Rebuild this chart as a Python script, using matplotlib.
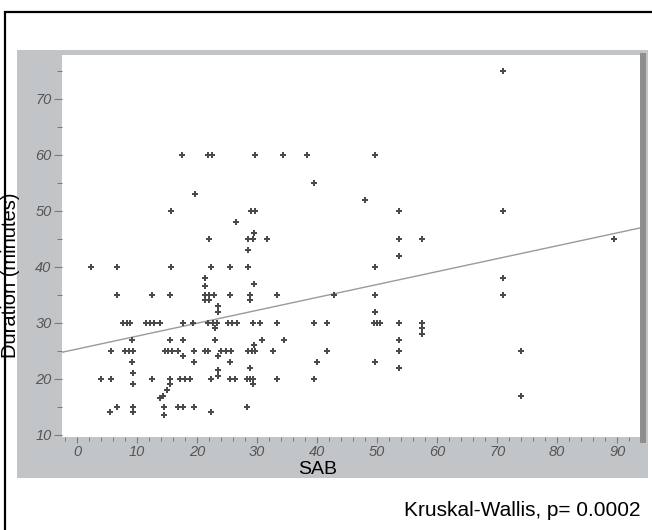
import matplotlib
matplotlib.use("Agg")
import matplotlib.pyplot as plt
from matplotlib.patches import Rectangle
from matplotlib.ticker import MultipleLocator

# SAB score vs procedure duration (minutes)
sab = [17.5, 19.6, 15.6, 2.3, 6.6, 15.6,
       21.9, 22.5, 29.7, 34.4, 38.4, 39.5,
       29.0, 29.6, 26.5, 22.0, 28.5, 29.5, 29.3, 31.6, 28.5,
       22.4, 25.5, 28.5, 21.3, 21.3, 29.5,
       6.6, 12.5, 15.5,
       7.7, 8.3, 8.8, 11.5, 12.2, 12.8, 13.8, 17.6, 19.3,
       9.1, 15.5, 17.6,
       5.6, 8.0, 8.7, 9.4, 14.6, 15.2, 15.9, 16.9, 17.6, 19.5,
       9.1, 19.5,
       4.0, 5.6, 9.3, 9.3, 12.5, 15.5, 15.5, 17.2, 18.0, 18.8,
       15.0, 14.4, 13.8,
       6.6, 5.5, 9.3, 9.3, 14.5, 14.5, 16.9, 17.6, 19.5,
       21.3, 22.0, 22.8, 21.3, 22.0, 25.5, 28.8, 28.8, 33.4,
       23.5, 23.5,
       21.9, 22.6, 23.3, 25.2, 25.9, 26.6, 29.3, 30.5, 33.4, 39.5, 41.6,
       23.0, 23.0, 30.9, 34.5, 29.5,
       21.3, 21.9, 24.0, 24.8, 25.6, 28.5, 29.1, 29.7, 32.6, 41.6,
       23.5, 25.5, 40.0, 28.9,
       22.3, 23.5, 23.5, 25.5, 26.3, 28.3, 28.9, 29.3, 29.3, 33.4, 39.5,
       28.3, 22.4,
       49.6, 48.0, 53.6, 71.0, 53.6, 57.4, 53.6, 49.6, 71.0, 42.8, 49.6, 71.0, 49.6,
       49.4, 49.9, 50.5, 53.6, 57.4, 57.4, 57.4, 53.6, 53.6, 74.0, 49.6, 53.6, 74.0,
       71.0, 89.4]
duration = [60, 53, 50, 40, 40, 40,
            60, 60, 60, 60, 60, 55,
            50, 50, 48, 45, 45, 46, 45, 45, 43,
            40, 40, 40, 38, 36.5, 37,
            35, 35, 35,
            30, 30, 30, 30, 30, 30, 30, 30, 30,
            27, 27, 27,
            25, 25, 25, 25, 25, 25, 25, 25, 24, 25,
            23, 23,
            20, 20, 21, 19, 20, 20, 19, 20, 20, 20,
            18, 17, 16.5,
            15, 14, 15, 14, 15, 13.5, 15, 15, 15,
            35, 35, 35, 34, 34, 35, 35, 34, 35,
            33, 32,
            30, 30, 30, 30, 30, 30, 30, 30, 30, 30, 30,
            29, 27, 27, 27, 26,
            25, 25, 25, 25, 25, 25, 25, 25, 25, 25,
            24, 23, 23, 22,
            20, 21.5, 20.5, 20, 20, 20, 20, 20, 19, 20, 20,
            15, 14,
            60, 52, 50, 50, 45, 45, 42, 40, 38, 35, 35, 35, 32,
            30, 30, 30, 30, 30, 29, 28, 27, 25, 25, 23, 22, 17,
            75, 45]

# fitted line
intercept = 25.3
slope = 0.2305

x_ticks = list(range(0, 100, 10))
y_ticks = list(range(10, 80, 10))

W, H = 652, 530


def fx(px):
    return px / W


def fy(py):
    return 1 - py / H


def box(x0, y0, x1, y1, **kw):
    # pixel box -> figure rectangle, kept under the axes
    fig.add_artist(Rectangle((fx(x0), fy(y1)), fx(x1) - fx(x0), fy(y0) - fy(y1),
                             transform=fig.transFigure, zorder=-5, **kw))


fig = plt.figure(figsize=(W / 100, H / 100), dpi=100)
fig.patch.set_facecolor("white")

box(5, 12, 660, 540, fill=False, edgecolor="black", linewidth=1.6)
box(17, 50, 648, 478, facecolor="#c2c5c8", edgecolor="none")
box(640, 53, 646, 443, facecolor="#8e8e8e", edgecolor="none")

ax = fig.add_axes([fx(62), fy(437), fx(640) - fx(62), fy(55) - fy(437)])
ax.set_zorder(2)
ax.set_facecolor("white")
ax.set_xlim(-2.5, 93.8)
ax.set_ylim(9.6, 77.8)

xs = [ax.get_xlim()[0], ax.get_xlim()[1]]
ax.plot(xs, [intercept + slope * v for v in xs], color="#9a9a9a", lw=1.0, zorder=2)
ax.plot(sab, duration, linestyle="none", marker="P", markersize=4.3,
        color="#4a4a4a", markeredgewidth=0, zorder=3, clip_on=False)

for s in ax.spines.values():
    s.set_visible(False)

ax.set_xticks(x_ticks)
ax.set_yticks(y_ticks)
ax.xaxis.set_minor_locator(MultipleLocator(2))
ax.yaxis.set_minor_locator(MultipleLocator(5))
ax.tick_params(which="major", direction="out", length=6, width=0.8,
               color="#7a7a7a", labelcolor="#555555", labelsize=10.5, pad=1.5)
ax.tick_params(which="minor", direction="out", length=3.5, width=0.7,
               color="#7a7a7a")
ax.tick_params(axis="x", which="major", length=4.5, pad=1)
ax.tick_params(axis="x", which="minor", length=3)
for lab in ax.get_xticklabels() + ax.get_yticklabels():
    lab.set_fontstyle("italic")
    lab.set_family("Liberation Sans")

fig.text(fx(11), fy(275), "Duration (minutes)", rotation=90, ha="center",
         va="center", fontsize=14.5, family="Liberation Sans", color="black")
fig.text(fx(318), fy(469), "SAB", ha="center", va="center", fontsize=14,
         family="Liberation Sans", color="black")
fig.text(fx(640), fy(510), "Kruskal-Wallis, p= 0.0002", ha="right", va="center",
         fontsize=15, family="Liberation Sans", color="black")

fig.savefig("out.png", dpi=100)
